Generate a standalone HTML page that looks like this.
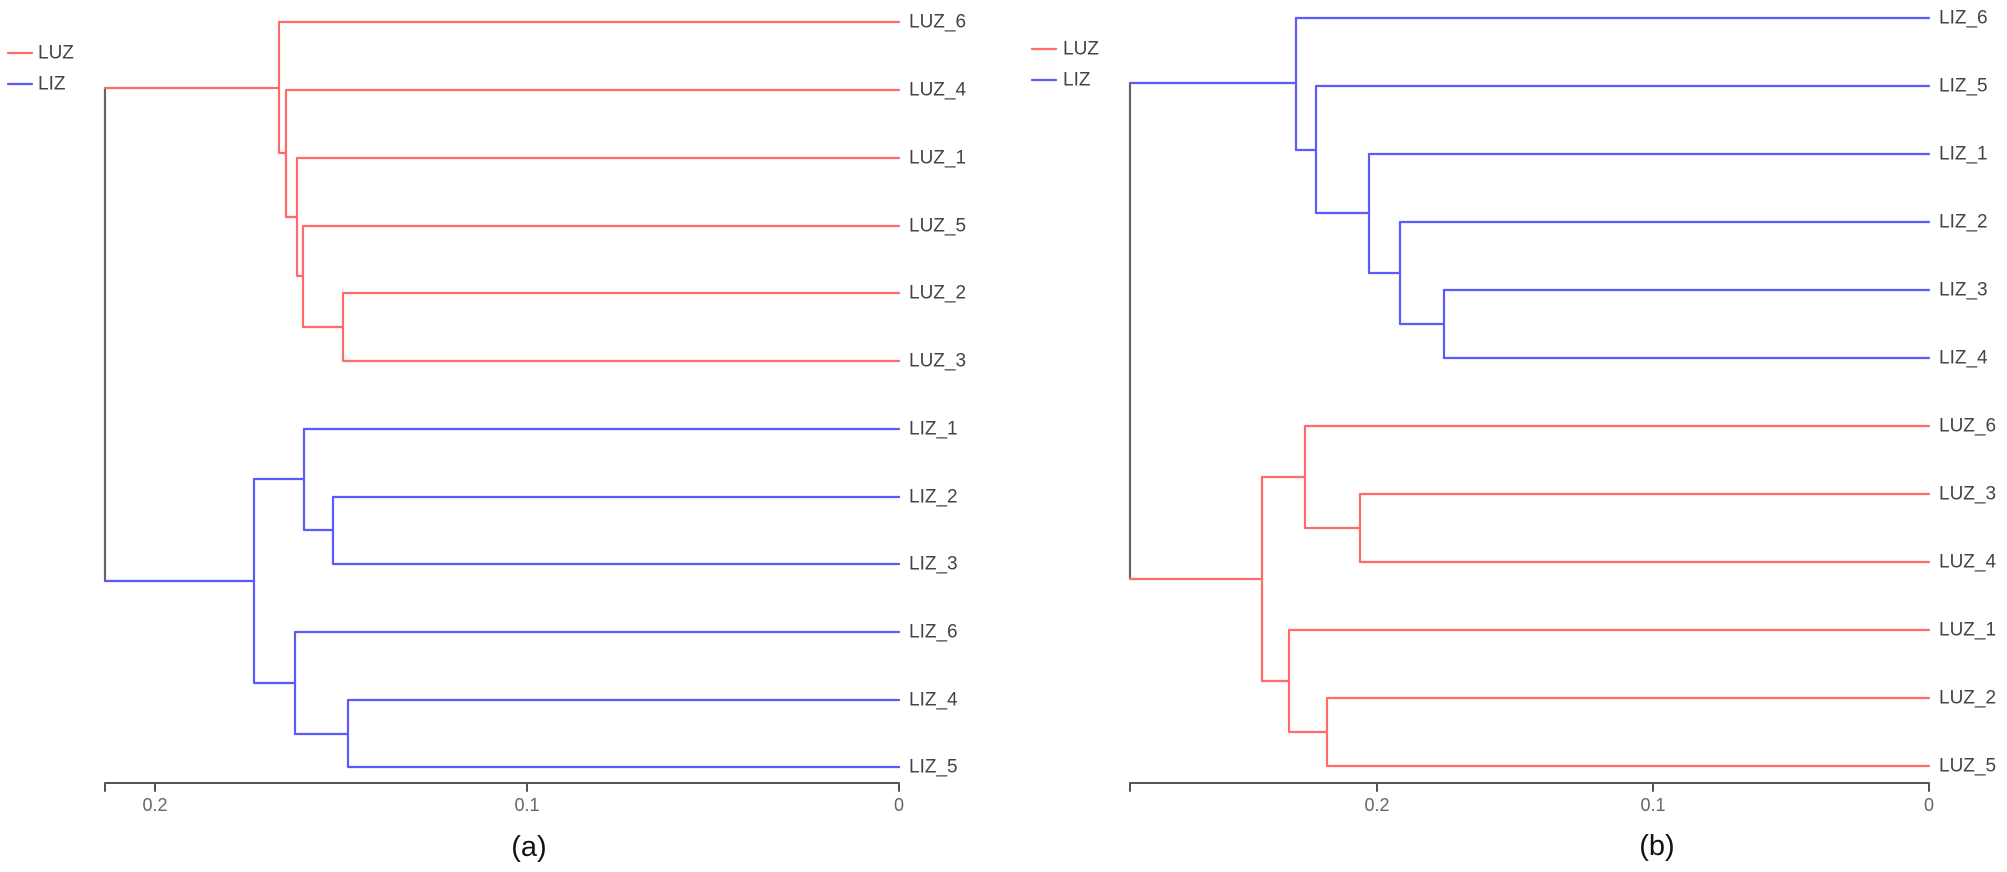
<!DOCTYPE html>
<html><head><meta charset="utf-8"><style>
html,body{margin:0;padding:0;background:#fff;}
svg{display:block;}
text{font-family:"Liberation Sans",Arial,sans-serif;}
</style></head><body>
<svg width="2007" height="872" viewBox="0 0 2007 872" xmlns="http://www.w3.org/2000/svg">
<g fill="none" stroke-width="2.2" stroke-linejoin="round" stroke-linecap="round">
<!-- Panel a -->
<path d="M105,88 V581" stroke="#666"/>
<g stroke="#ff6b6b">
<path d="M105,88 H279"/>
<path d="M899,22 H279 V153 H286"/>
<path d="M899,90 H286 V217 H297"/>
<path d="M899,158 H297 V276 H303"/>
<path d="M899,226 H303 V327 H343"/>
<path d="M899,293 H343 V361 H899"/>
</g>
<g stroke="#5a5aff">
<path d="M105,581 H254"/>
<path d="M304,479 H254 V683 H295"/>
<path d="M899,429 H304 V530 H333"/>
<path d="M899,497 H333 V564 H899"/>
<path d="M899,632 H295 V734 H348"/>
<path d="M899,700 H348 V767 H899"/>
</g>
<!-- Panel b -->
<path d="M1130,83 V579" stroke="#666"/>
<g stroke="#5a5aff">
<path d="M1130,83 H1296"/>
<path d="M1929,18 H1296 V150 H1316"/>
<path d="M1929,86 H1316 V213 H1369"/>
<path d="M1929,154 H1369 V273 H1400"/>
<path d="M1929,222 H1400 V324 H1444"/>
<path d="M1929,290 H1444 V358 H1929"/>
</g>
<g stroke="#ff6b6b">
<path d="M1130,579 H1262"/>
<path d="M1305,477 H1262 V681 H1289"/>
<path d="M1929,426 H1305 V528 H1360"/>
<path d="M1929,494 H1360 V562 H1929"/>
<path d="M1929,630 H1289 V732 H1327"/>
<path d="M1929,698 H1327 V766 H1929"/>
</g>
<!-- axes -->
<g stroke="#555" stroke-width="2">
<path d="M105,791 V783 H899 V791"/>
<path d="M155,783 V791 M527,783 V791"/>
<path d="M1130,791 V783 H1929 V791"/>
<path d="M1377,783 V791 M1653,783 V791"/>
</g>
<!-- legends -->
<path d="M8,53 H32" stroke="#ff6b6b"/>
<path d="M8,84 H32" stroke="#5a5aff"/>
<path d="M1032,49 H1056" stroke="#ff6b6b"/>
<path d="M1032,80 H1056" stroke="#5a5aff"/>
</g>
<g font-size="19" fill="#444" dominant-baseline="central">
<text x="38" y="53">LUZ</text>
<text x="38" y="84">LIZ</text>
<text x="1063" y="49">LUZ</text>
<text x="1063" y="80">LIZ</text>
<text x="909" y="22">LUZ_6</text>
<text x="909" y="90">LUZ_4</text>
<text x="909" y="158">LUZ_1</text>
<text x="909" y="226">LUZ_5</text>
<text x="909" y="293">LUZ_2</text>
<text x="909" y="361">LUZ_3</text>
<text x="909" y="429">LIZ_1</text>
<text x="909" y="497">LIZ_2</text>
<text x="909" y="564">LIZ_3</text>
<text x="909" y="632">LIZ_6</text>
<text x="909" y="700">LIZ_4</text>
<text x="909" y="767">LIZ_5</text>
<text x="1939" y="18">LIZ_6</text>
<text x="1939" y="86">LIZ_5</text>
<text x="1939" y="154">LIZ_1</text>
<text x="1939" y="222">LIZ_2</text>
<text x="1939" y="290">LIZ_3</text>
<text x="1939" y="358">LIZ_4</text>
<text x="1939" y="426">LUZ_6</text>
<text x="1939" y="494">LUZ_3</text>
<text x="1939" y="562">LUZ_4</text>
<text x="1939" y="630">LUZ_1</text>
<text x="1939" y="698">LUZ_2</text>
<text x="1939" y="766">LUZ_5</text>
</g>
<g font-size="18" fill="#666" text-anchor="middle" dominant-baseline="central">
<text x="155" y="805">0.2</text>
<text x="527" y="805">0.1</text>
<text x="899" y="805">0</text>
<text x="1377" y="805">0.2</text>
<text x="1653" y="805">0.1</text>
<text x="1929" y="805">0</text>
</g>
<g font-size="29" fill="#111" text-anchor="middle" dominant-baseline="central">
<text x="529" y="847">(a)</text>
<text x="1657" y="846">(b)</text>
</g>
</svg>
</body></html>
